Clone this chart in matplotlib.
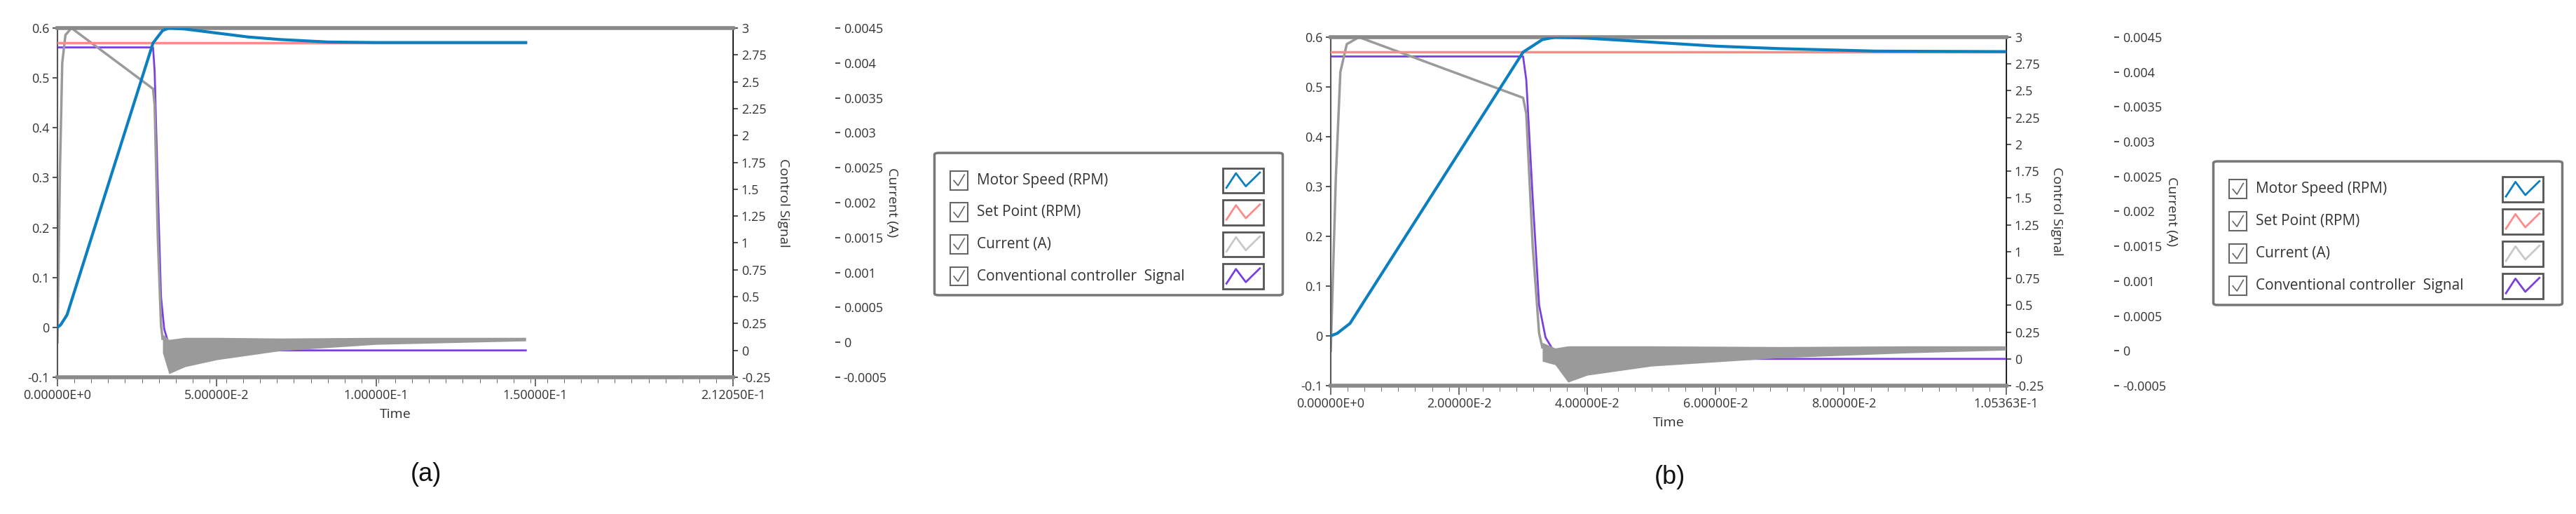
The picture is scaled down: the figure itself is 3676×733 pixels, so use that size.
import matplotlib
matplotlib.use("Agg")
import matplotlib.pyplot as plt
from matplotlib.patches import FancyBboxPatch, Rectangle
import numpy as np

# ---------------- data ----------------
# Panel (a)
a_t_speed = [0.0, 0.001, 0.003, 0.030, 0.033, 0.035, 0.040, 0.050, 0.060, 0.070, 0.085, 0.100, 0.147]
a_speed   = [0.0, 0.005, 0.025, 0.570, 0.595, 0.600, 0.598, 0.590, 0.582, 0.577, 0.572, 0.571, 0.571]
a_t_sp = [0.0, 0.147]
a_sp   = [0.571, 0.571]
a_t_cur = [0.0, 0.0008, 0.0015, 0.0025, 0.0044, 0.030, 0.0305, 0.0315, 0.0325, 0.0330]
a_cur   = [0.0, 0.0025, 0.0040, 0.0044, 0.0045, 0.00363, 0.0034, 0.0015, 0.00025, 0.00005]
a_t_band = [0.033, 0.035, 0.040, 0.050, 0.070, 0.100, 0.147]
a_band_hi = [0.00012, 0.00004, 0.00007, 0.00007, 0.00006, 0.00007, 0.00007]
a_band_lo = [-0.00015, -0.00045, -0.00035, -0.00025, -0.00012, -0.00003, 0.00002]
a_t_ctrl = [0.0, 0.030, 0.0305, 0.0315, 0.0325, 0.0335, 0.0350, 0.0370, 0.147]
a_ctrl   = [2.82, 2.82, 2.6, 1.5, 0.5, 0.2, 0.05, 0.0, 0.0]
a_xticks = [0.0, 0.05, 0.10, 0.15, 0.21205]
a_xticklabels = ["0.00000E+0", "5.00000E-2", "1.00000E-1", "1.50000E-1", "2.12050E-1"]
a_xmax = 0.21205

# Panel (b)
b_t_speed = [0.0, 0.001, 0.003, 0.030, 0.033, 0.035, 0.040, 0.050, 0.060, 0.070, 0.085, 0.1054]
b_speed   = [0.0, 0.005, 0.025, 0.570, 0.595, 0.600, 0.598, 0.590, 0.582, 0.577, 0.572, 0.571]
b_t_sp = [0.0, 0.1054]
b_sp   = [0.571, 0.571]
b_t_cur = [0.0, 0.0008, 0.0015, 0.0025, 0.0044, 0.030, 0.0305, 0.0315, 0.0325, 0.0330]
b_cur   = [0.0, 0.0025, 0.0040, 0.0044, 0.0045, 0.00363, 0.0034, 0.0015, 0.00025, 0.00005]
b_t_band = [0.033, 0.035, 0.037, 0.040, 0.050, 0.070, 0.090, 0.1054]
b_band_hi = [0.00012, 0.00004, 0.00007, 0.00007, 0.00007, 0.00006, 0.00007, 0.00007]
b_band_lo = [-0.00015, -0.0002, -0.00045, -0.00035, -0.00022, -0.00010, -0.00003, 0.00001]
b_t_ctrl = [0.0, 0.030, 0.0305, 0.0315, 0.0325, 0.0335, 0.0350, 0.0370, 0.1054]
b_ctrl   = [2.82, 2.82, 2.6, 1.5, 0.5, 0.2, 0.05, 0.0, 0.0]
b_xticks = [0.0, 0.02, 0.04, 0.06, 0.08, 0.105363]
b_xticklabels = ["0.00000E+0", "2.00000E-2", "4.00000E-2", "6.00000E-2", "8.00000E-2", "1.05363E-1"]
b_xmax = 0.105363

left_ticks = [-0.1, 0, 0.1, 0.2, 0.3, 0.4, 0.5, 0.6]
left_labels = ["-0.1", "0", "0.1", "0.2", "0.3", "0.4", "0.5", "0.6"]
ctrl_ticks = [-0.25, 0, 0.25, 0.5, 0.75, 1, 1.25, 1.5, 1.75, 2, 2.25, 2.5, 2.75, 3]
ctrl_labels = ["-0.25", "0", "0.25", "0.5", "0.75", "1", "1.25", "1.5", "1.75", "2", "2.25", "2.5", "2.75", "3"]
cur_ticks = [-0.0005, 0, 0.0005, 0.001, 0.0015, 0.002, 0.0025, 0.003, 0.0035, 0.004, 0.0045]
cur_labels = ["-0.0005", "0", "0.0005", "0.001", "0.0015", "0.002", "0.0025", "0.003", "0.0035", "0.004", "0.0045"]
legend_labels = ["Motor Speed (RPM)", "Set Point (RPM)", "Current (A)", "Conventional controller  Signal"]

C_SPEED = "#0b7fc0"
C_SP = "#ff8a8a"
C_CUR = "#9a9a9a"
C_CTRL = "#7a3fe0"
TXT = "#333333"
legend_colors = [C_SPEED, C_SP, "#c8c8c8", C_CTRL]

plt.rcParams['font.family'] = ['Open Sans', 'DejaVu Sans']
fig = plt.figure(figsize=(36.76, 7.33), dpi=100)
W, H = 3676, 733


def draw_legend(legbox):
    lx0, ly0, lx1, ly1 = legbox
    lg = fig.add_axes([lx0 / W, 1 - ly1 / H, (lx1 - lx0) / W, (ly1 - ly0) / H])
    lg.set_xlim(0, 1)
    lg.set_ylim(0, 1)
    lg.axis('off')
    lg.add_patch(FancyBboxPatch((0.005, 0.01), 0.99, 0.98, boxstyle="round,pad=0,rounding_size=0.012",
                                fc='white', ec='#777777', lw=2.5, transform=lg.transAxes))
    ys = [0.80, 0.58, 0.36, 0.14]
    for y, lab, c in zip(ys, legend_labels, legend_colors):
        lg.add_patch(Rectangle((0.05, y - 0.065), 0.05, 0.13, fc='white', ec='#666666', lw=1.5))
        lg.plot([0.06, 0.072, 0.09], [y, y - 0.035, y + 0.04], color='#666666', lw=1.2)
        lg.text(0.125, y, lab, fontsize=15, color=TXT, va='center', ha='left')
        lg.add_patch(Rectangle((0.825, y - 0.085), 0.115, 0.17, fc='white', ec='#555555', lw=2))
        xs = [0.835, 0.86, 0.885, 0.91, 0.93]
        yy = [y - 0.05, y + 0.05, y - 0.04, y - 0.04 + 0.0, y + 0.05]
        lg.plot([0.835, 0.862, 0.89, 0.93], [y - 0.05, y + 0.05, y - 0.04, y + 0.055], color=c, lw=2)


def panel(box, t_sp, sp, t_speed, speed, t_cur, cur, t_band, bhi, blo, t_ctrl, ctrl,
          xticks, xlabels, xmax, cur_off, legbox, letter_xy, letter):
    l, t, r, b = box
    ax = fig.add_axes([l / W, 1 - b / H, (r - l) / W, (b - t) / H])
    ax2 = ax.twinx()
    ax3 = ax.twinx()
    ax3.spines['right'].set_position(('outward', cur_off))
    for a in (ax, ax2, ax3):
        a.set_xlim(0, xmax)
    ax.set_ylim(-0.1, 0.6)
    ax2.set_ylim(-0.25, 3)
    ax3.set_ylim(-0.0005, 0.0045)
    ax3.spines['right'].set_visible(False)
    for s in ['top', 'bottom']:
        ax.spines[s].set_linewidth(4)
        ax.spines[s].set_color('#8a8a8a')
    ax.spines['left'].set_color('#555555')
    ax.spines['left'].set_linewidth(1.5)
    ax2.spines['right'].set_color('#555555')
    ax2.spines['right'].set_linewidth(1.5)
    for a in (ax2, ax3):
        a.spines['top'].set_visible(False)
        a.spines['bottom'].set_visible(False)
        a.spines['left'].set_visible(False)

    ax3.plot(t_cur, cur, color=C_CUR, lw=2.5, zorder=2)
    ax3.fill_between(t_band, blo, bhi, color=C_CUR, lw=0, zorder=2)
    ax2.plot(t_ctrl, ctrl, color=C_CTRL, lw=2, zorder=3)
    ax.plot(t_sp, sp, color=C_SP, lw=2.5, zorder=4)
    ax.plot(t_speed, speed, color=C_SPEED, lw=3, zorder=5)
    ax.set_zorder(ax3.get_zorder() + 1)
    ax.patch.set_visible(False)

    ax.set_yticks(left_ticks)
    ax.set_yticklabels(left_labels)
    ax2.set_yticks(ctrl_ticks)
    ax2.set_yticklabels(ctrl_labels)
    ax3.set_yticks(cur_ticks)
    ax3.set_yticklabels(cur_labels)
    ax.set_xticks(xticks)
    ax.set_xticklabels(xlabels)
    ax.set_xticks(np.linspace(0, xmax, 41), minor=True)
    for a in (ax, ax2, ax3):
        a.tick_params(labelsize=13, colors=TXT, length=5, width=1.2)
    ax.tick_params(axis='x', which='minor', length=6, color='#555555')
    ax.tick_params(axis='x', which='major', length=9, color='#555555')
    ax.set_xlabel("Time", fontsize=14, color=TXT, labelpad=6)
    ax2.set_ylabel("Control Signal", fontsize=14, color=TXT, rotation=270, labelpad=20)
    ax3.set_ylabel("Current (A)", fontsize=14, color=TXT, rotation=270, labelpad=12)

    draw_legend(legbox)
    fig.text(letter_xy[0] / W, 1 - letter_xy[1] / H, letter, fontsize=26, ha='center',
             va='center', color='#111111', family=['Liberation Sans', 'DejaVu Sans'])


panel((82, 40, 1046, 538), a_t_sp, a_sp, a_t_speed, a_speed, a_t_cur, a_cur,
      a_t_band, a_band_hi, a_band_lo, a_t_ctrl, a_ctrl,
      a_xticks, a_xticklabels, a_xmax, 105, (1331, 216, 1833, 423), (608, 676), "(a)")
panel((1899, 53, 2863, 550), b_t_sp, b_sp, b_t_speed, b_speed, b_t_cur, b_cur,
      b_t_band, b_band_hi, b_band_lo, b_t_ctrl, b_ctrl,
      b_xticks, b_xticklabels, b_xmax, 111, (3156, 228, 3659, 437), (2383, 681), "(b)")

fig.savefig("out.png", dpi=100, facecolor='white')
